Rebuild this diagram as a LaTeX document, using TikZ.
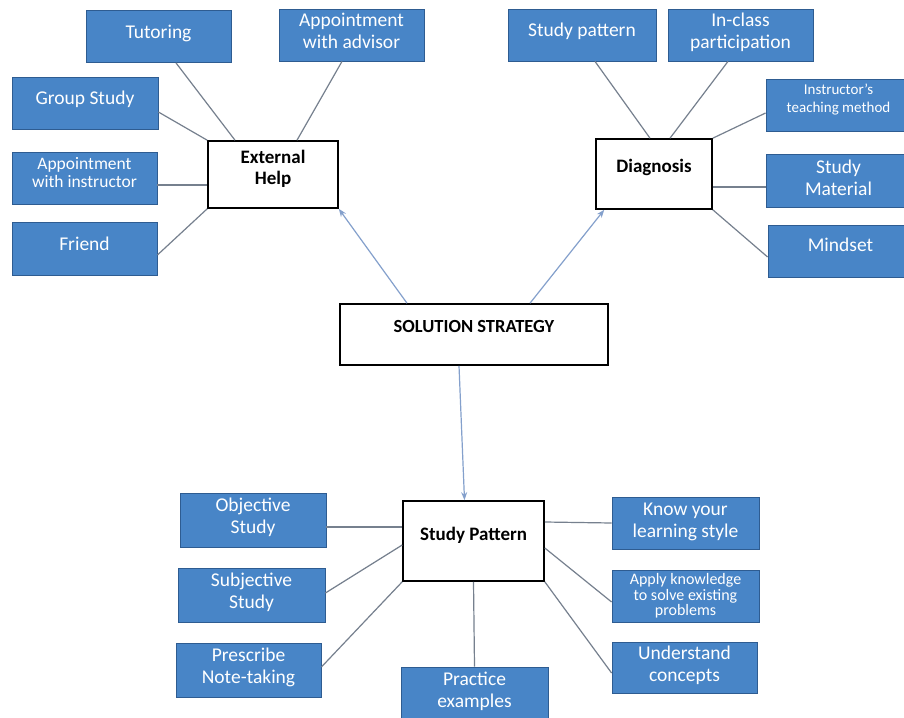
\documentclass[tikz,border=0pt]{standalone}
\usepackage{fontspec}
\setmainfont{Carlito}
\usetikzlibrary{arrows.meta}
\definecolor{boxblue}{RGB}{72,133,199}
\definecolor{boxedge}{RGB}{46,92,145}
\definecolor{linkgray}{RGB}{118,128,142}
\definecolor{arrowblue}{RGB}{132,160,204}

\begin{document}
\begin{tikzpicture}[x=1pt,y=-1pt,
  leaf/.style = {draw=boxedge, fill=boxblue, text=white, line width=0.8pt, minimum width=145pt, minimum height=52pt, inner sep=2pt, align=center, font=\fontsize{19.5}{22}\selectfont, text depth=8pt},
  hub/.style = {draw, line width=1.6pt, fill=white, align=center, inner sep=2pt, font=\bfseries\fontsize{19}{21}\selectfont, text depth=16pt},
  link/.style = {draw=linkgray, line width=1.2pt},
  lead/.style = {draw=arrowblue, line width=1.2pt, -{Stealth[length=8pt,width=6pt]}}]
\fill[white] (0,0) rectangle (904,717);
\useasboundingbox (0,0) rectangle (904,717);

% external help
\node[leaf, text depth=10pt] (tut) at (158.5,36.5) {Tutoring};
\node[leaf] (adv) at (351.5,35) {Appointment\\with advisor};
\node[leaf, minimum width=146pt, text depth=10pt] (grp) at (85,103) {Group Study};
\node[leaf, font=\fontsize{17.5}{18}\selectfont, text depth=11pt] (ins) at (84.5,178) {Appointment\\with instructor};
\node[leaf, minimum height=53pt, text depth=10pt] (fri) at (84.5,248.5) {Friend};
\node[hub, minimum width=130pt, minimum height=67pt, text depth=14pt] (ext) at (273,174.5) {External\\Help};

% diagnosis
\node[leaf, minimum width=148pt, text depth=10pt] (pat) at (582,35) {Study pattern};
\node[leaf] (cls) at (740.5,35) {In-class\\participation};
\node[leaf, font=\fontsize{15}{18}\selectfont, text depth=15pt] (tch) at (838.5,105.5) {Instructor's\\teaching method};
\node[leaf, minimum height=53pt, text depth=6pt] (mat) at (838.5,180.5) {Study\\Material};
\node[leaf, text depth=12pt] (mnd) at (840.5,251) {Mindset};
\node[hub, minimum width=116pt, minimum height=70pt] (dia) at (654,174) {Diagnosis};

% centre
\node[hub, minimum width=268pt, minimum height=61pt, font=\bfseries\fontsize{18.5}{21}\selectfont] (sol) at (474,334.5) {SOLUTION STRATEGY};

% study pattern
\node[hub, minimum width=141pt, minimum height=80pt, text depth=14pt] (stp) at (473.5,541) {Study Pattern};
\node[leaf, minimum width=146pt, minimum height=54pt] (obj) at (253,520) {Objective\\Study};
\node[leaf, minimum width=147pt, minimum height=54pt] (sub) at (251.5,595) {Subjective\\Study};
\node[leaf, minimum height=54pt] (pre) at (248.5,670) {Prescribe\\Note-taking};
\node[leaf, minimum width=147pt, minimum height=53pt] (prc) at (474.5,693.5) {Practice\\examples};
\node[leaf, minimum width=147pt, text depth=5pt] (knw) at (685.5,523) {Know your\\learning style};
\node[leaf, minimum width=147pt, font=\fontsize{16}{15.5}\selectfont, text depth=3pt] (app) at (685.5,596) {Apply knowledge\\to solve existing\\problems};
\node[leaf, minimum height=51pt] (und) at (684.5,667.5) {Understand\\concepts};

\draw[link] ([xshift=17.5pt]tut.south) -- ([xshift=-38pt]ext.north);
\draw[link] ([xshift=-9.5pt]adv.south) -- ([xshift=24pt]ext.north);
\draw[link] ([yshift=-9pt]grp.east) -- (ext.north west);
\draw[link] ([yshift=-7pt]ins.east) -- ([yshift=-10.5pt]ext.west);
\draw[link] ([yshift=-6.5pt]fri.east) -- (ext.south west);

\draw[link] ([xshift=13pt]pat.south) -- ([xshift=-4pt]dia.north);
\draw[link] ([xshift=-12.5pt]cls.south) -- ([xshift=16pt]dia.north);
\draw[link] ([yshift=-7.5pt]tch.west) -- (dia.north east);
\draw[link] ([yshift=-6.5pt]mat.west) -- ([yshift=-13pt]dia.east);
\draw[link] ([yshift=-6pt]mnd.west) -- (dia.south east);

\draw[lead] ([xshift=-67pt]sol.north) -- (ext.south east);
\draw[lead] ([xshift=56pt]sol.north) -- ([xshift=9pt]dia.south west);
\draw[lead] ([xshift=-15pt]sol.south) -- ([xshift=-9pt]stp.north);

\draw[link] ([yshift=-7pt]obj.east) -- ([yshift=14pt]stp.west);
\draw[link] ([yshift=2pt]sub.east) -- ([yshift=-4pt]stp.west);
\draw[link] ([yshift=3pt]pre.east) -- (stp.south west);
\draw[link] (prc.north) -- (stp.south);
\draw[link] (knw.west) -- ([yshift=19pt]stp.east);
\draw[link] ([yshift=-6pt]app.west) -- ([yshift=-7pt]stp.east);
\draw[link] ([yshift=-5.5pt]und.west) -- (stp.south east);
\end{tikzpicture}
\end{document}
